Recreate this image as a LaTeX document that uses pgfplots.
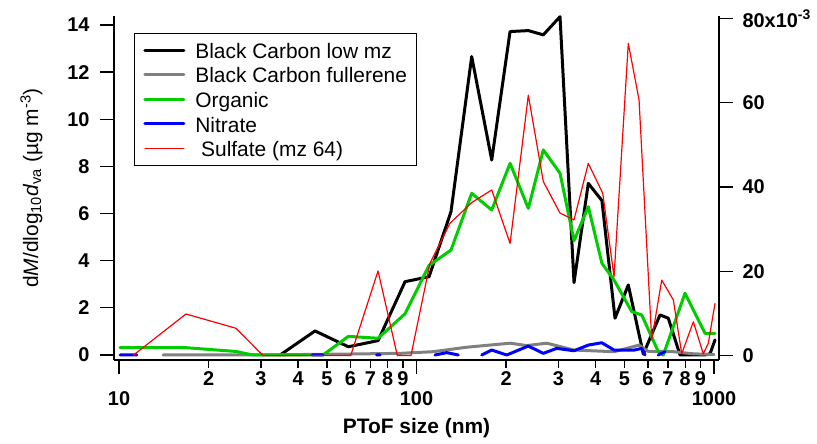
\documentclass[border=0pt]{standalone}
\usepackage{pgfplots}
\pgfplotsset{compat=1.18}
\usepackage{fontspec}
\setmainfont{Liberation Sans}
\definecolor{igorgreen}{RGB}{0,204,0}
\definecolor{igorgray}{RGB}{128,128,128}
\definecolor{igorblue}{RGB}{0,0,255}
\definecolor{igorred}{RGB}{255,0,0}
\begin{document}
\begin{tikzpicture}[x=1bp,y=1bp]
\useasboundingbox (0,0) rectangle (817,444);
\begin{axis}[
  scale only axis, width=605bp, height=344bp,
  at={(114bp,84bp)},
  xmode=log, xmin=9.62, xmax=1039.5,
  tick align=outside,
  axis line style={line width=1.3bp},
  every tick/.style={line width=1.3bp, black},
  xminorticks=false, yminorticks=false,
  unbounded coords=jump,
  ymin=-0.212, ymax=14.38,
  axis x line*=bottom, axis y line*=left,
  xtick={10,100,1000}, xticklabels={10,100,1000},
  x tick label style={font=\bfseries\fontsize{20}{20}\selectfont, yshift=-14bp},
  major tick length=14bp,
  extra x ticks={20,30,40,50,60,70,80,90,200,300,400,500,600,700,800,900},
  extra x tick labels={2,3,4,5,6,7,8,9,2,3,4,5,6,7,8,9},
  extra x tick style={major tick length=8bp, tick label style={font=\bfseries\fontsize{13}{13}\selectfont, yshift=14bp}},
  ytick={0,2,4,6,8,10,12,14}, yticklabels={0,2,4,6,8,10,12,14},
  y tick label style={font=\bfseries\fontsize{20}{20}\selectfont, xshift=-7bp},
  xlabel={\bfseries PToF size (nm)},
  xlabel style={font=\fontsize{21}{21}\selectfont, at={(axis description cs:0.5,-0.2151)}, anchor=base},
  ylabel={d\textit{M}/dlog\textsubscript{10}\textit{d}\textsubscript{va} (µg m\textsuperscript{-3})},
  ylabel style={font=\fontsize{21}{21}\selectfont, at={(axis description cs:-0.1256,0.5)}, anchor=base, rotate=0},
  legend cell align=left,
  legend image code/.code={\draw[#1] (0bp,0bp) -- (39bp,0bp);},
  legend style={at={(0.033,0.9506)}, anchor=north west, draw=black, line width=0.8bp,
    font=\fontsize{21}{21}\selectfont, row sep=-2.7bp, inner xsep=9bp, inner ysep=3bp,
    nodes={inner ysep=1bp, inner xsep=0bp, text height=21bp, text depth=4.3bp},
    /tikz/every odd column/.append style={column sep=10bp}},
  every axis plot/.append style={line join=round, line cap=round},
]
\addplot[black, line width=3bp] coordinates {
(34.8,0) (45.6,1.02) (59.0,0.35) (74.3,0.61) (91.5,3.11) (110.2,3.32)
(130.6,6.08) (153.3,12.66) (179.0,8.27) (206.3,13.72) (237.6,13.76)
(266.8,13.58) (303.7,14.35) (338.4,3.07) (378.0,7.28) (420.0,6.55)
(464.8,1.56) (515.1,2.97) (578.6,0.04) (658.4,1.70) (702.1,1.56)
(768.8,0) (932.6,0) (969.6,0.05) (1007.9,0.64)
};
\addlegendentry{Black Carbon low mz}
\addplot[igorgray, line width=3bp] coordinates {
(14.06,0) (24.7,0) (32.2,0) (40.6,0.02) (59,0.04) (88,0.07) (113.6,0.14)
(147.5,0.33) (206.3,0.5) (234.6,0.4) (273.9,0.5) (338.4,0.21) (461.3,0.14)
(559.8,0.42) (601.5,0.15) (730,0.14) (852,0.05) (1000,0.02)
};
\addlegendentry{Black Carbon fullerene}
\addplot[igorgreen, line width=3bp] coordinates {
(10.08,0.31) (16.8,0.31) (24.7,0.15) (28.2,0) (48.5,0) (59.0,0.79)
(74.3,0.71) (91.5,1.75) (110.2,3.8) (130.6,4.45) (153.3,6.86) (179.0,6.15)
(206.3,8.13) (237.6,6.22) (266.8,8.7) (303.7,7.71) (338.4,4.85) (378.0,6.29)
(420,3.89) (461.3,3.18) (528.9,1.84) (571.5,1.7) (649.8,0.14) (675.5,0)
(799.1,2.62) (932.6,0.92) (1007.9,0.92)
};
\addlegendentry{Organic}
\addplot[igorblue, line width=3bp] coordinates {
(10.08,0) (11.49,0) (11.5,nan)
(44.55,0) (48.51,0) (48.6,nan)
(73.5,0) (75.5,0) (75.6,nan)
(115.4,0) (126.4,0.1) (138.2,0) (140,nan)
(165.7,0) (179.0,0.21) (201.1,0) (237.6,0.38) (266.8,0.07) (296.0,0.28)
(338.4,0.18) (378.0,0.42) (419.4,0.52) (461.3,0.21) (540,0.21) (571.5,0.28)
(586.4,0) (590,nan)
(649.8,0) (684.4,0.14)
};
\addlegendentry{Nitrate}
\addlegendimage{igorred, line width=1.2bp}
\addlegendentry{\ Sulfate (mz 64)}
\end{axis}
\begin{axis}[
  scale only axis, width=605bp, height=344bp,
  at={(114bp,84bp)},
  xmode=log, xmin=9.62, xmax=1039.5,
  tick align=outside,
  axis line style={line width=1.3bp},
  every tick/.style={line width=1.3bp, black},
  xminorticks=false, yminorticks=false,
  ymin=-1.07, ymax=80.6,
  axis x line=none, axis y line*=right,
  major tick length=14bp,
  ytick={0,20,40,60,80}, yticklabels={0,20,40,60,80x10\textsuperscript{-3}},
  y tick label style={font=\bfseries\fontsize{20}{20}\selectfont, xshift=6bp},
  every axis plot/.append style={line join=round},
]
\addplot[igorred, line width=1.2bp] coordinates {
(11.14,0) (16.8,9.85) (24.74,6.45) (30.48,0) (60.09,0) (74.26,20.06)
(86.2,0) (95.8,0) (111.0,21.9) (129.6,31.4) (153.3,36.3) (179.0,39.3)
(206.3,26.6) (237.6,61.8) (266.8,41.3) (303.7,33.8) (338.4,32.2)
(378.0,45.6) (422.7,38.5) (461.3,18.7) (515.1,74.1) (559.8,60.7)
(617.5,3.7) (667.2,17.9) (730.0,13.2) (779.0,0.4) (852.1,8.0)
(920.4,0.4) (956.8,2.9) (1007.9,12.4)
};
\end{axis}
\end{tikzpicture}
\end{document}
